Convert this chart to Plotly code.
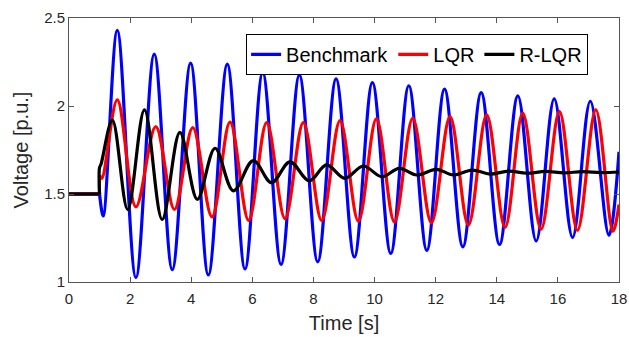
import plotly.graph_objects as go

# Pre-event steady state (all three controllers coincide)
pre_t = [0, 1.0]
pre_v = [1.5, 1.5]

# Benchmark (blue) - extrema
bench_t = [1.0, 1.12, 1.58, 2.19, 2.79, 3.38, 3.98, 4.56, 5.18, 5.76, 6.34, 6.94, 7.54,
           8.14, 8.74, 9.34, 9.93, 10.53, 11.12, 11.71, 12.29, 12.89, 13.49, 14.09, 14.69,
           15.29, 15.88, 16.48, 17.06, 17.67, 18.0]
bench_v = [1.5, 1.375, 2.43, 1.025, 2.295, 1.07, 2.244, 1.04, 2.238, 1.074, 2.19, 1.10,
           2.175, 1.114, 2.154, 1.142, 2.133, 1.162, 2.115, 1.18, 2.096, 1.20, 2.076, 1.213,
           2.058, 1.233, 2.04, 1.253, 2.027, 1.266, 1.74]

# LQR (red)
lqr_t = [1.0, 1.02, 1.08, 1.58, 2.19, 2.84, 3.45, 4.05, 4.68, 5.27, 5.88, 6.47, 7.07,
         7.67, 8.27, 8.87, 9.47, 10.06, 10.65, 11.25, 11.86, 12.47, 13.07, 13.67, 14.27,
         14.85, 15.45, 16.05, 16.64, 17.24, 17.8, 18.0]
lqr_v = [1.5, 1.6, 1.59, 2.035, 1.427, 1.883, 1.412, 1.877, 1.37, 1.908, 1.35, 1.906,
         1.36, 1.906, 1.35, 1.917, 1.346, 1.927, 1.342, 1.93, 1.336, 1.94, 1.323, 1.95, 1.31,
         1.959, 1.30, 1.968, 1.294, 1.978, 1.289, 1.44]

# R-LQR (black)
rlqr_t = [1.0, 1.0, 1.05, 1.42, 1.92, 2.47, 3.05, 3.63, 4.20, 4.78, 5.38, 6.03, 6.63,
          7.23, 7.86, 8.43, 9.03, 9.63, 10.24, 10.81, 11.38, 12.02, 12.58, 13.2, 13.78,
          14.38, 14.98, 15.6, 16.2, 16.8, 17.4, 18.0]
rlqr_v = [1.5, 1.65, 1.67, 1.92, 1.412, 1.978, 1.355, 1.85, 1.47, 1.76, 1.518, 1.69,
          1.564, 1.683, 1.575, 1.665, 1.589, 1.659, 1.598, 1.646, 1.608, 1.64, 1.608, 1.636,
          1.613, 1.63, 1.618, 1.628, 1.62, 1.627, 1.622, 1.625]

x_ticks = [0, 2, 4, 6, 8, 10, 12, 14, 16, 18]
y_ticks = [1, 1.5, 2, 2.5]
y_ticktext = ["1", "1.5", "2", "2.5"]

FONT = "Liberation Sans, Arial"
LW = 3.2

fig = go.Figure()
series = [("Benchmark", "#0000FF", bench_t, bench_v),
          ("LQR", "#FF0000", lqr_t, lqr_v),
          ("R-LQR", "#000000", rlqr_t, rlqr_v)]
for name, color, t, v in series:
    fig.add_trace(go.Scatter(x=pre_t, y=pre_v, mode="lines", legendgroup=name,
                             showlegend=False, hoverinfo="skip",
                             line=dict(color=color, width=LW)))
    fig.add_trace(go.Scatter(x=t, y=v, mode="lines", name=name, legendgroup=name,
                             line=dict(color=color, width=LW, shape="spline", smoothing=1.0)))

axis_common = dict(showline=True, linecolor="#555555", linewidth=1, mirror="ticks",
                   ticks="inside", ticklen=5, tickcolor="#555555", showgrid=False,
                   zeroline=False, automargin=False,
                   tickfont=dict(family=FONT, size=15, color="#262626"))

fig.update_xaxes(range=[0, 18], tickvals=x_ticks, ticklabelstandoff=3,
                 title=dict(text="Time [s]", font=dict(family=FONT, size=20, color="#262626"),
                            standoff=9),
                 **axis_common)
fig.update_yaxes(range=[1, 2.5], tickvals=y_ticks, ticktext=y_ticktext,
                 title=dict(text="Voltage [p.u.]", font=dict(family=FONT, size=20, color="#262626"),
                            standoff=10),
                 **axis_common)

fig.update_layout(
    width=629, height=337,
    margin=dict(l=69, r=10, t=18, b=55),
    plot_bgcolor="white", paper_bgcolor="white",
    showlegend=True,
    legend=dict(orientation="h", x=0.322, y=0.94, xanchor="left", yanchor="top",
                bgcolor="white", bordercolor="#000000", borderwidth=1,
                font=dict(family=FONT, size=20, color="#000000"),
                itemwidth=30, tracegroupgap=0),
)

fig.write_html("out.html", config={"displayModeBar": False},
               post_script="document.body.style.margin='0';document.body.style.overflow='hidden';")
